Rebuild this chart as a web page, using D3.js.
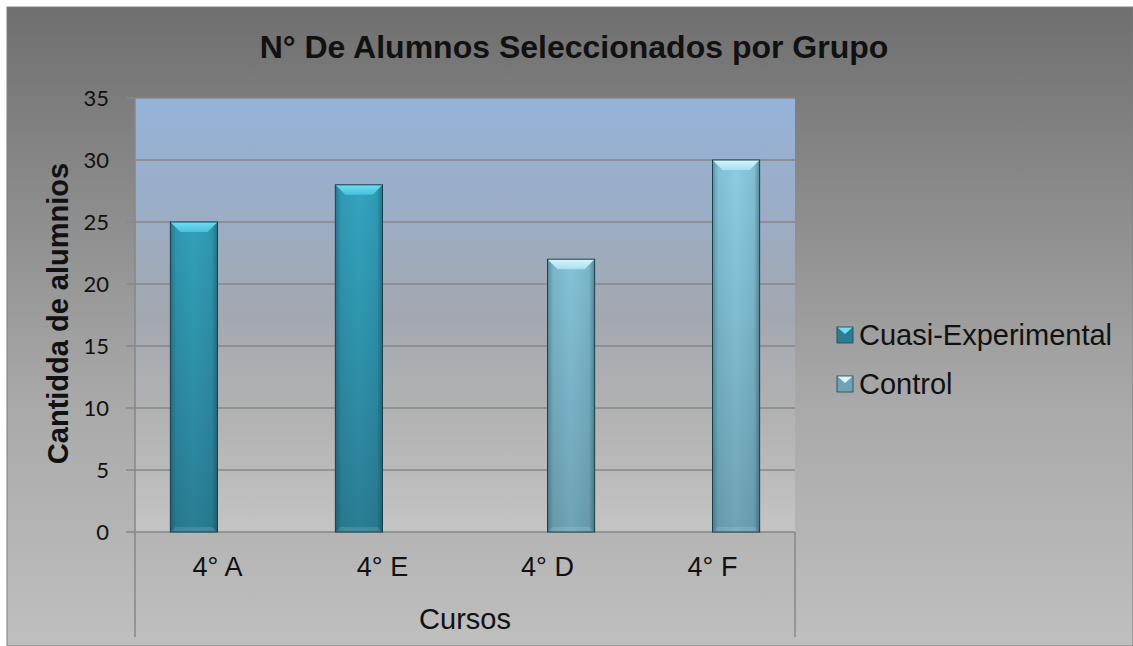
<!DOCTYPE html>
<html>
<head>
<meta charset="utf-8">
<script src="https://cdn.jsdelivr.net/npm/d3@7"></script>
<style>
    html, body { margin: 0; padding: 0; background: #fff; }
    svg { display: block; }
</style>
</head>
<body>
<div id="chart"></div>
<script>
// Data
const categories = ["4° A", "4° E", "4° D", "4° F"];
const seriesNames = ["Cuasi-Experimental", "Control"];
const cuasiValues = [25, 28, null, null];
const controlValues = [null, null, 22, 30];
const yTicks = [0, 5, 10, 15, 20, 25, 30, 35];

const chartTitle = "N° De Alumnos Seleccionados por Grupo";
const yTitle = "Cantidda de alumnios";
const xTitle = "Cursos";

const width = 1133, height = 646;
const plot = { left: 135, right: 795, top: 98, bottom: 532 };

const palette = {
    "Cuasi-Experimental": { top: "#36aecb", bottom: "#2a7e94", face: "#74ddf4", faceEnd: "#45c0dc" },
    "Control": { top: "#92d4ea", bottom: "#6ea3b5", face: "#d8f5fc", faceEnd: "#a6e0f0" }
};

const svg = d3.select("#chart").append("svg")
    .attr("width", width)
    .attr("height", height);

const defs = svg.append("defs");

// outer chart background (vertical gray gradient)
const bgGrad = defs.append("linearGradient")
    .attr("id", "bgGrad").attr("x1", 0).attr("y1", 0).attr("x2", 0).attr("y2", 1);
[["0", "#6f6f6f"], ["0.3", "#8b8b8b"], ["0.62", "#a9a9a9"], ["1", "#bfbfbf"]]
    .forEach(([o, c]) => bgGrad.append("stop").attr("offset", o).attr("stop-color", c));

// plot area: blue at top, fading to light gray at bottom
const plotGrad = defs.append("linearGradient")
    .attr("id", "plotGrad").attr("x1", 0).attr("y1", 0).attr("x2", 0).attr("y2", 1);
[["0", "#95b3d9"], ["0.25", "#9badc7"], ["0.5", "#a3a8b0"], ["0.75", "#b3b3b3"], ["1", "#c4c4c4"]]
    .forEach(([o, c]) => plotGrad.append("stop").attr("offset", o).attr("stop-color", c));

// bar body gradients in user space so all bars share the same colour ramp
seriesNames.forEach((s, i) => {
    const g = defs.append("linearGradient")
        .attr("id", `bar${i}`)
        .attr("gradientUnits", "userSpaceOnUse")
        .attr("x1", 0).attr("y1", plot.top).attr("x2", 0).attr("y2", plot.bottom);
    g.append("stop").attr("offset", 0).attr("stop-color", palette[s].top);
    g.append("stop").attr("offset", 1).attr("stop-color", palette[s].bottom);

    const f = defs.append("linearGradient")
        .attr("id", `face${i}`).attr("x1", 0).attr("y1", 0).attr("x2", 0).attr("y2", 1);
    f.append("stop").attr("offset", 0).attr("stop-color", palette[s].face);
    f.append("stop").attr("offset", 1).attr("stop-color", palette[s].faceEnd);
});

// darker edges left/right for the rounded look
const edgeGrad = defs.append("linearGradient")
    .attr("id", "edgeGrad").attr("x1", 0).attr("y1", 0).attr("x2", 1).attr("y2", 0);
[["0", 0.35], ["0.12", 0.08], ["0.5", 0], ["0.88", 0.08], ["1", 0.4]]
    .forEach(([o, a]) => edgeGrad.append("stop").attr("offset", o)
        .attr("stop-color", "#0a2a35").attr("stop-opacity", a));

svg.append("rect")
    .attr("x", 7).attr("y", 7)
    .attr("width", width - 7).attr("height", height - 7)
    .attr("fill", "url(#bgGrad)")
    .attr("stroke", "#7c7c7c")
    .attr("stroke-width", 1);

// scales
const x0 = d3.scaleBand()
    .domain(categories)
    .range([plot.left, plot.right])
    .padding(0);

const x1 = d3.scaleBand()
    .domain(seriesNames)
    .range([0, x0.bandwidth()])
    .paddingInner(0)
    .paddingOuter(0.75);

const y = d3.scaleLinear()
    .domain([0, 35])
    .range([plot.bottom, plot.top]);

svg.append("rect")
    .attr("x", plot.left).attr("y", plot.top)
    .attr("width", plot.right - plot.left)
    .attr("height", plot.bottom - plot.top)
    .attr("fill", "url(#plotGrad)");

// gridlines + y tick marks
svg.append("g")
    .selectAll("line")
    .data(yTicks)
    .join("line")
    .attr("x1", plot.left - 9)
    .attr("x2", plot.right)
    .attr("y1", d => y(d))
    .attr("y2", d => y(d))
    .attr("stroke", "#878787")
    .attr("stroke-width", 1.5);

// y tick labels
svg.append("g")
    .selectAll("text")
    .data(yTicks)
    .join("text")
    .attr("x", 109)
    .attr("y", d => y(d))
    .attr("dy", "0.35em")
    .attr("text-anchor", "end")
    .style("font-family", "Lato, 'Open Sans', sans-serif")
    .style("font-size", "22px")
    .style("fill", "#111")
    .text(d => d);

// axis lines (y axis runs down through the category label area)
svg.append("line")
    .attr("x1", plot.left).attr("x2", plot.left)
    .attr("y1", plot.top).attr("y2", 637)
    .attr("stroke", "#878787").attr("stroke-width", 1.5);
svg.append("line")
    .attr("x1", plot.right).attr("x2", plot.right)
    .attr("y1", plot.bottom).attr("y2", 637)
    .attr("stroke", "#878787").attr("stroke-width", 1.5);

// bars
const rows = categories.map((c, i) => ({
    category: c,
    values: [
        { series: seriesNames[0], idx: 0, value: cuasiValues[i] },
        { series: seriesNames[1], idx: 1, value: controlValues[i] }
    ].filter(d => d.value != null)
}));

const bar = svg.append("g")
    .selectAll("g")
    .data(rows)
    .join("g")
    .attr("transform", d => `translate(${x0(d.category)},0)`)
    .selectAll("g")
    .data(d => d.values)
    .join("g");

const bevel = 10;

bar.append("rect")
    .attr("x", d => x1(d.series))
    .attr("y", d => y(d.value))
    .attr("width", x1.bandwidth())
    .attr("height", d => y(0) - y(d.value))
    .attr("fill", d => `url(#bar${d.idx})`);

bar.append("rect")
    .attr("x", d => x1(d.series))
    .attr("y", d => y(d.value))
    .attr("width", x1.bandwidth())
    .attr("height", d => y(0) - y(d.value))
    .attr("fill", "url(#edgeGrad)");

// top bevel face
bar.append("path")
    .attr("d", d => {
        const bx = x1(d.series), by = y(d.value), w = x1.bandwidth();
        return `M${bx},${by}L${bx + w},${by}L${bx + w - bevel},${by + bevel}L${bx + bevel},${by + bevel}Z`;
    })
    .attr("fill", d => `url(#face${d.idx})`);

// small bottom bevel
bar.append("path")
    .attr("d", d => {
        const bx = x1(d.series), by = y(0), w = x1.bandwidth(), b = 5;
        return `M${bx},${by}L${bx + w},${by}L${bx + w - b},${by - b}L${bx + b},${by - b}Z`;
    })
    .attr("fill", "#ffffff")
    .attr("fill-opacity", 0.12);

// dark outline
bar.append("rect")
    .attr("x", d => x1(d.series))
    .attr("y", d => y(d.value))
    .attr("width", x1.bandwidth())
    .attr("height", d => y(0) - y(d.value))
    .attr("fill", "none")
    .attr("stroke", "#17404d")
    .attr("stroke-width", 1);

// category labels
svg.append("g")
    .selectAll("text")
    .data(categories)
    .join("text")
    .attr("x", d => x0(d) + x0.bandwidth() / 2)
    .attr("y", 576)
    .attr("text-anchor", "middle")
    .style("font-family", "'Liberation Sans', Arial, sans-serif")
    .style("font-size", "27px")
    .style("fill", "#111")
    .text(d => d);

// axis titles
svg.append("text")
    .attr("x", (plot.left + plot.right) / 2)
    .attr("y", 629)
    .attr("text-anchor", "middle")
    .style("font-family", "'Liberation Sans', Arial, sans-serif")
    .style("font-size", "29px")
    .style("fill", "#111")
    .text(xTitle);

svg.append("text")
    .attr("transform", `translate(68,${(162 + 465) / 2}) rotate(-90)`)
    .attr("text-anchor", "middle")
    .style("font-family", "'Liberation Sans', Arial, sans-serif")
    .style("font-size", "29px")
    .style("font-weight", "bold")
    .style("fill", "#111")
    .text(yTitle);

// chart title
svg.append("text")
    .attr("x", 574)
    .attr("y", 58)
    .attr("text-anchor", "middle")
    .style("font-family", "'Liberation Sans', Arial, sans-serif")
    .style("font-size", "32px")
    .style("font-weight", "bold")
    .style("fill", "#111")
    .text(chartTitle);

// legend
const legend = svg.append("g")
    .selectAll("g")
    .data(seriesNames)
    .join("g")
    .attr("transform", (d, i) => `translate(837,${327 + i * 49})`);

legend.append("rect")
    .attr("width", 16).attr("height", 16)
    .attr("fill", d => palette[d].bottom);

legend.append("path")
    .attr("d", "M0,0L16,0L8,7Z")
    .attr("fill", d => palette[d].face);

legend.append("rect")
    .attr("width", 16).attr("height", 16)
    .attr("fill", "none")
    .attr("stroke", "#1d4653")
    .attr("stroke-width", 0.8);

legend.append("text")
    .attr("x", 22)
    .attr("y", 18)
    .style("font-family", "'Liberation Sans', Arial, sans-serif")
    .style("font-size", "29px")
    .style("fill", "#111")
    .text(d => d);
</script>
</body>
</html>
